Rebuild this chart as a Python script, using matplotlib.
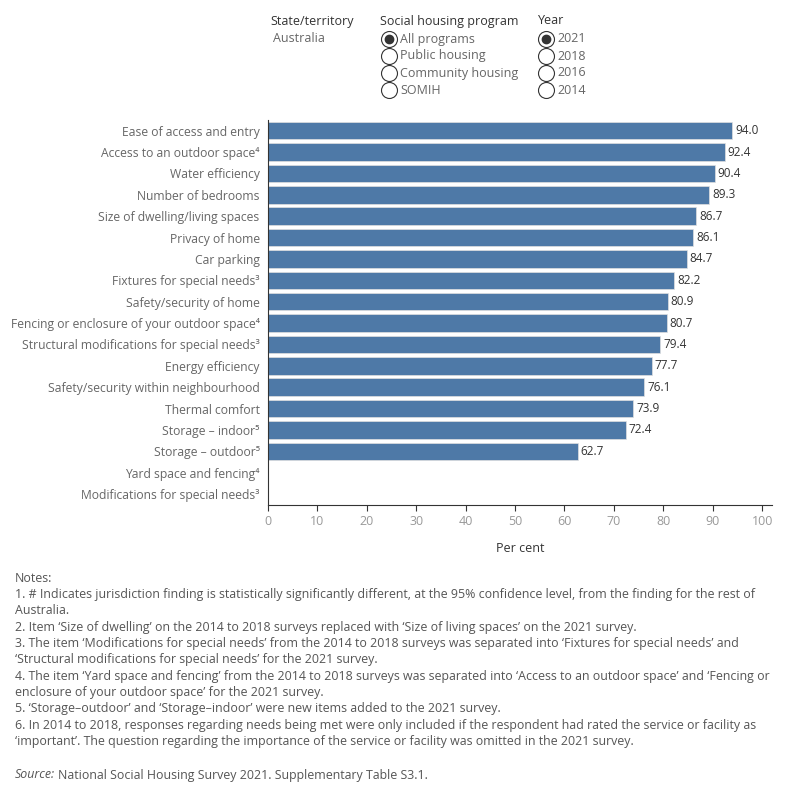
import matplotlib
matplotlib.use("Agg")
from matplotlib import pyplot as plt

plt.rcParams["font.family"] = ["Open Sans", "DejaVu Sans"]

# data (2021, all programs, Australia)
items = [
    "Ease of access and entry",
    "Access to an outdoor space\u2074",
    "Water efficiency",
    "Number of bedrooms",
    "Size of dwelling/living spaces",
    "Privacy of home",
    "Car parking",
    "Fixtures for special needs\u00b3",
    "Safety/security of home",
    "Fencing or enclosure of your outdoor space\u2074",
    "Structural modifications for special needs\u00b3",
    "Energy efficiency",
    "Safety/security within neighbourhood",
    "Thermal comfort",
    "Storage \u2013 indoor\u2075",
    "Storage \u2013 outdoor\u2075",
    "Yard space and fencing\u2074",
    "Modifications for special needs\u00b3",
]
values = [94.0, 92.4, 90.4, 89.3, 86.7, 86.1, 84.7, 82.2, 80.9, 80.7,
          79.4, 77.7, 76.1, 73.9, 72.4, 62.7, None, None]
xticks = [0, 10, 20, 30, 40, 50, 60, 70, 80, 90, 100]

programs = ["All programs", "Public housing", "Community housing", "SOMIH"]
years = ["2021", "2018", "2016", "2014"]

notes = [
    "Notes:",
    "1. # Indicates jurisdiction finding is statistically significantly different, at the 95% confidence level, from the finding for the rest of",
    "Australia.",
    "2. Item \u2018Size of dwelling\u2019 on the 2014 to 2018 surveys replaced with \u2018Size of living spaces\u2019 on the 2021 survey.",
    "3. The item \u2018Modifications for special needs\u2019 from the 2014 to 2018 surveys was separated into \u2018Fixtures for special needs\u2019 and",
    "\u2018Structural modifications for special needs\u2019 for the 2021 survey.",
    "4. The item \u2018Yard space and fencing\u2019 from the 2014 to 2018 surveys was separated into \u2018Access to an outdoor space\u2019 and \u2018Fencing or",
    "enclosure of your outdoor space\u2019 for the 2021 survey.",
    "5. \u2018Storage\u2013outdoor\u2019 and \u2018Storage\u2013indoor\u2019 were new items added to the 2021 survey.",
    "6. In 2014 to 2018, responses regarding needs being met were only included if the respondent had rated the service or facility as",
    "\u2018important\u2019. The question regarding the importance of the service or facility was omitted in the 2021 survey.",
]
source = "National Social Housing Survey 2021. Supplementary Table S3.1."

BAR = "#4e79a7"
GREY = "#666666"

fig = plt.figure(figsize=(8, 8), dpi=100)
ax = fig.add_axes([0.335, 0.369, 0.63, 0.481])

ypos = list(range(len(items)))
for y, v in zip(ypos, values):
    if v is None:
        continue
    ax.barh(y, v, height=0.82, color=BAR, edgecolor="#e0e0e0", linewidth=0.5)
    ax.text(v + 0.6, y, f"{v:.1f}", va="center", ha="left", fontsize=8.5,
            color="#333333")

ax.set_ylim(len(items) - 0.5, -0.5)
ax.set_xlim(0, 102)
ax.set_yticks(ypos)
ax.set_yticklabels(items, fontsize=8.7, color=GREY)
ax.set_xticks(xticks)
ax.set_xticklabels([str(t) for t in xticks], fontsize=9, color="#999999")
ax.tick_params(axis="y", length=0, pad=6)
ax.tick_params(axis="x", length=4, color="#333333")
for s in ["top", "right"]:
    ax.spines[s].set_visible(False)
ax.spines["left"].set_color("#333333")
ax.spines["bottom"].set_color("#333333")
ax.set_xlabel("Per cent", fontsize=9, color="#333333", labelpad=10)

# overlay for header controls and notes (pixel coordinates)
ov = fig.add_axes([0, 0, 1, 1], zorder=-1)
ov.set_xlim(0, 800)
ov.set_ylim(800, 0)
ov.axis("off")

ov.text(270, 21, "State/territory", fontsize=9, color="#333333", va="center")
ov.text(273, 39, "Australia", fontsize=9, color=GREY, va="center")
ov.text(380, 21, "Social housing program", fontsize=9, color="#333333", va="center")
ov.text(538, 21, "Year", fontsize=9, color="#333333", va="center")
for i, p in enumerate(programs):
    y = 39 + i * 17
    ov.plot(389, y, "o", ms=11.5, mfc="white", mec="#333333", mew=0.8)
    if i == 0:
        ov.plot(389, y, "o", ms=6, color="#333333")
    ov.text(400, y, p, fontsize=9, color=GREY, va="center")
for i, yr in enumerate(years):
    y = 39 + i * 17
    ov.plot(546, y, "o", ms=11.5, mfc="white", mec="#333333", mew=0.8)
    if i == 0:
        ov.plot(546, y, "o", ms=6, color="#333333")
    ov.text(557, y, yr, fontsize=9, color=GREY, va="center")

for i, line in enumerate(notes):
    ov.text(15, 578 + i * 16.35, line, fontsize=8.9, color="#555555",
            va="center")
src = ov.text(15, 775, "Source:", fontsize=8.9, color="#555555", va="center",
              style="italic")
fig.canvas.draw()
bb = src.get_window_extent()
x_end = ov.transData.inverted().transform((bb.x1, bb.y0))[0]
ov.text(x_end + 3, 775, source, fontsize=8.9, color="#555555", va="center")

fig.savefig("out.png", dpi=100)
